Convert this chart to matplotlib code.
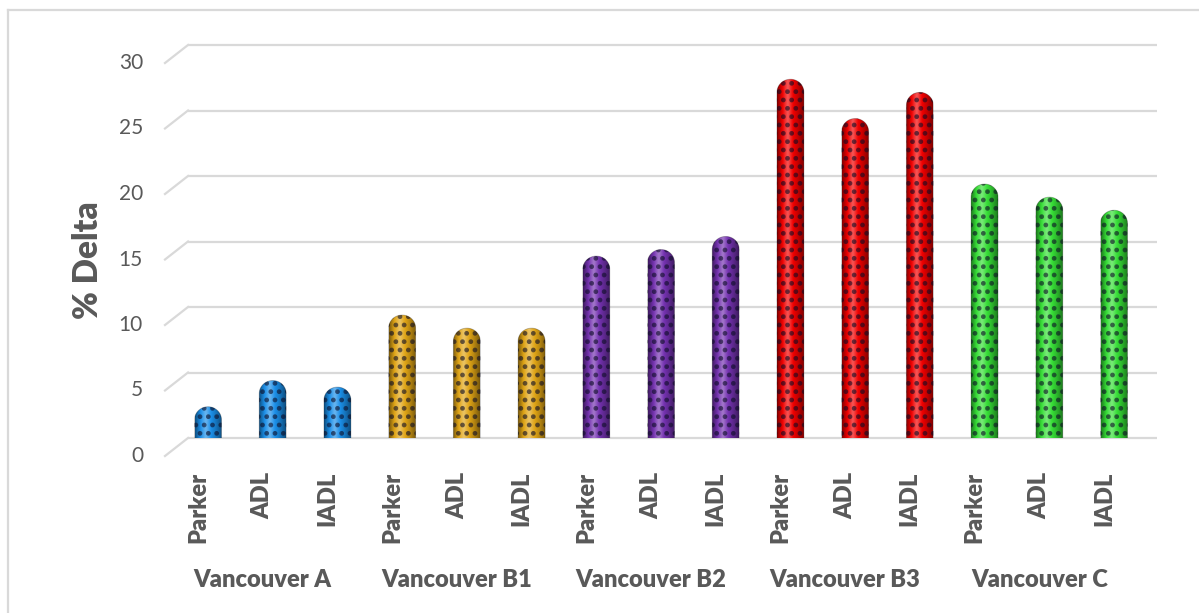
import numpy as np
import matplotlib.pyplot as plt
import matplotlib.transforms as mtransforms
from matplotlib.colors import LinearSegmentedColormap, to_rgb
from matplotlib.patches import PathPatch
from matplotlib.path import Path
from matplotlib.lines import Line2D

# --- data ---------------------------------------------------------------
groups = ["Vancouver A", "Vancouver B1", "Vancouver B2", "Vancouver B3", "Vancouver C"]
methods = ["Parker", "ADL", "IADL"]
delta_a = [3.0, 5.0, 4.5]
delta_b1 = [10.0, 9.0, 9.0]
delta_b2 = [14.5, 15.0, 16.0]
delta_b3 = [28.0, 25.0, 27.0]
delta_c = [20.0, 19.0, 18.0]
group_colors = ["#1b8fe8", "#e0a516", "#7432b0", "#f00000", "#36de36"]
y_ticks = [0, 5, 10, 15, 20, 25, 30]

all_values = [delta_a, delta_b1, delta_b2, delta_b3, delta_c]

# --- figure geometry (pixels) -------------------------------------------
W, H = 1199, 613
fig = plt.figure(figsize=(W / 100, H / 100), dpi=100)
plt.rcParams['font.family'] = ['Lato', 'DejaVu Sans']
plt.rcParams['hatch.linewidth'] = 2.2
TXT = "#595959"
GRID = "#d9d9d9"

ax_left, ax_right = 188, 1157
ax_bot, ax_top = 438, 45
ax = fig.add_axes([ax_left / W, (H - ax_bot) / H,
                   (ax_right - ax_left) / W, (ax_bot - ax_top) / H])
ax.set_axis_off()

n = len(groups) * len(methods)
xs = np.arange(n)
px_per_x = (1114 - 208) / (n - 1)
xlim = (-(208 - ax_left) / px_per_x, (n - 1) + (ax_right - 1114) / px_per_x)
ylim = (0, 30)
px_per_y = (ax_bot - ax_top) / 30.0

# depth offsets of the pseudo-3D floor
DEPTH_X, DEPTH_Y = 23, 18

# gridlines: back plane + diagonal front edge
yax = ax.get_yaxis_transform()
for v in y_ticks:
    ax.plot([0, 1], [v, v], transform=yax, color=GRID, lw=1.6, zorder=1,
            clip_on=False, solid_capstyle='butt')
    ax.plot([-DEPTH_X / (ax_right - ax_left), 0], [v - DEPTH_Y / px_per_y, v],
            transform=yax, color=GRID, lw=1.6, zorder=1, clip_on=False)

lab_tr = mtransforms.offset_copy(yax, fig=fig, x=0, y=-DEPTH_Y, units='dots')
for v in y_ticks:
    ax.text((143 - ax_left) / (ax_right - ax_left), v, str(v), transform=lab_tr,
            ha='right', va='center', fontsize=15, color=TXT)

# --- cylinders ----------------------------------------------------------
bar_w = 27 / px_per_x
base = -8 / px_per_y          # value 0 on the bar's own depth plane
foot = -17 / px_per_y         # front edge of the bottom ellipse
cap_ry = 13 / px_per_y
foot_ry = 4 / px_per_y


def cylinder_path(xc, top):
    x0, x1 = xc - bar_w / 2, xc + bar_w / 2
    t = np.linspace(np.pi, 0, 30)
    cap = np.column_stack([xc + bar_w / 2 * np.cos(t), top - cap_ry + cap_ry * np.sin(t)])
    b = np.linspace(0, -np.pi, 30)
    bottom = np.column_stack([xc + bar_w / 2 * np.cos(b), foot + foot_ry + foot_ry * np.sin(b)])
    verts = np.vstack([[x0, foot + foot_ry], cap, [x1, foot + foot_ry], bottom[1:], [x0, foot + foot_ry]])
    codes = [Path.MOVETO] + [Path.LINETO] * (len(verts) - 2) + [Path.CLOSEPOLY]
    return Path(verts, codes)


def shade_cmap(col):
    c = np.array(to_rgb(col))
    dark = c * 0.55
    light = c + (1 - c) * 0.35
    return LinearSegmentedColormap.from_list("cyl", [dark, c, light, c, c * 0.8, dark])


grad = np.linspace(0, 1, 64).reshape(1, -1)
i = 0
for g, vals in enumerate(all_values):
    cmap = shade_cmap(group_colors[g])
    for val in vals:
        top = val + base
        path = cylinder_path(xs[i], top)
        clip = PathPatch(path, transform=ax.transData, facecolor='none', edgecolor='none')
        ax.add_patch(clip)
        im = ax.imshow(grad, cmap=cmap, aspect='auto', zorder=3,
                       extent=(xs[i] - bar_w / 2, xs[i] + bar_w / 2, foot, top),
                       interpolation='bicubic')
        im.set_clip_path(clip)
        # dotted texture
        ax.add_patch(PathPatch(path, facecolor='none', edgecolor=(0.05, 0.05, 0.15, 0.6),
                               lw=0, hatch='..', zorder=4))
        ax.add_patch(PathPatch(path, facecolor='none', edgecolor=(0, 0, 0, 0.25),
                               lw=0.6, zorder=5))
        i += 1

ax.set_xlim(*xlim)
ax.set_ylim(*ylim)

# --- category labels ----------------------------------------------------
xax = ax.get_xaxis_transform()
tick_tr = mtransforms.offset_copy(xax, fig=fig, x=-10, y=0, units='dots')
i = 0
for g, name in enumerate(groups):
    for m in methods:
        ax.text(xs[i], -(472 - ax_bot) / (ax_bot - ax_top), m, transform=tick_tr,
                rotation=90, ha='center', va='top', fontsize=17,
                fontweight='heavy', color=TXT)
        i += 1
    ax.text(xs[g * 3 + 1], -(580 - ax_bot) / (ax_bot - ax_top), name, transform=tick_tr,
            ha='center', va='center', fontsize=17, fontweight='heavy', color=TXT)

fig.text(88 / W, 1 - 260 / H, "% Delta", rotation=90, ha='center', va='center',
         fontsize=24, fontweight='heavy', color=TXT)

# chart-area border (left and top edges visible)
fig.add_artist(Line2D([8 / W, 8 / W], [0, 1 - 10 / H], color=GRID, lw=1.6))
fig.add_artist(Line2D([8 / W, 1], [1 - 10 / H, 1 - 10 / H], color=GRID, lw=1.6))

fig.savefig("out.png", dpi=100)
